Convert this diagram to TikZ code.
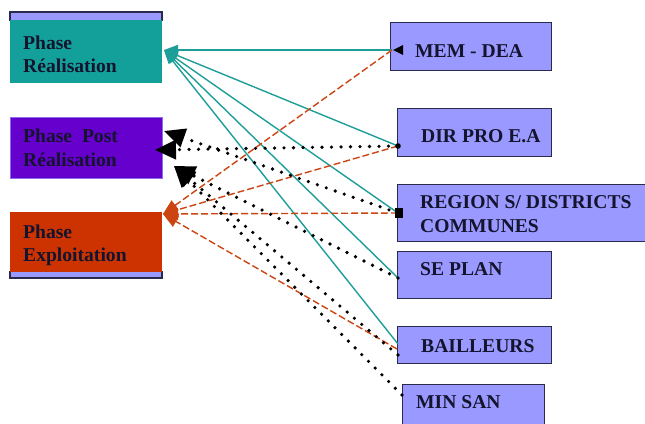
\documentclass[tikz,border=0pt]{standalone}
\usepackage{fontspec}
\setmainfont{Liberation Serif}
\usetikzlibrary{arrows.meta}
\definecolor{lav}{HTML}{9999FF}
\definecolor{frame}{HTML}{2A2A4A}
\definecolor{tealbox}{HTML}{14A09A}
\definecolor{purplebox}{HTML}{6600CC}
\definecolor{orangebox}{HTML}{CC3300}
\definecolor{tealline}{HTML}{1E9E98}
\definecolor{orangeline}{HTML}{CC4411}
\definecolor{txt}{HTML}{14142E}
\begin{document}
\begin{tikzpicture}[x=1pt,y=-1pt,
  rbox/.style={draw=frame,fill=lav,line width=1.3pt,anchor=north west,inner sep=0pt},
  lbox/.style={anchor=north west,inner sep=0pt,minimum width=152pt},
  lab/.style={anchor=base west,inner sep=0pt,font=\fontsize{19.6}{22}\selectfont\bfseries,text=txt},
  tealc/.style={draw=tealline,line width=1.4pt,-{Triangle[length=14pt,width=10pt]}},
  orangec/.style={draw=orangeline,line width=1.4pt,dash pattern=on 7pt off 3pt,-{Triangle[length=15pt,width=12pt]}},
  dotc/.style={draw=black,line width=3.6pt,line cap=round,dash pattern=on 0pt off 9.5pt,
     -{Triangle[length=21pt,width=19pt]}}
]
\useasboundingbox (0,0) rectangle (645,423);
\fill[white] (0,0) rectangle (645,423);

% left frame strips
\filldraw[fill=lav,draw=frame,line width=1.2pt] (10,21) -- (10,12) -- (162,12) -- (162,21);
\filldraw[fill=lav,draw=frame,line width=1.2pt] (10,271) -- (10,278) -- (162,278) -- (162,271);

% left boxes
\node[lbox,fill=tealbox,minimum height=63pt] (real) at (10,20) {};
\node[lbox,fill=purplebox,draw=lav!70!purplebox,line width=0.8pt,minimum height=61pt] (post) at (10,117) {};
\node[lbox,fill=orangebox,minimum height=60pt] (expl) at (10,212) {};

\node[lab] (realA) at (23,49) {Phase};
\node[lab] (realB) at (23,72) {Réalisation};
\node[lab] (postA) at (23,142) {Phase~ Post};
\node[lab] (postB) at (23,166) {Réalisation};
\node[lab] (explA) at (23,238) {Phase};
\node[lab] (explB) at (23,261) {Exploitation};

% right boxes
\node[rbox,minimum width=161pt,minimum height=48pt] (mem) at (390,22) {};
\node[rbox,minimum width=154pt,minimum height=48pt] (dir) at (397,108) {};
\node[rbox,minimum width=250pt,minimum height=57pt] (reg) at (397,184) {};
\node[rbox,minimum width=154pt,minimum height=47pt] (sep) at (397,251) {};
\node[rbox,minimum width=154pt,minimum height=37pt] (bai) at (397,326) {};
\node[rbox,minimum width=142pt,minimum height=45pt] (min) at (402,384) {};

\node[lab] (memT) at (415,57) {MEM - DEA};
\node[lab] (dirT) at (421,142) {DIR PRO E.A};
\node[lab] (regT) at (420,208) {REGION S/ DISTRICTS};
\node[lab] (regU) at (420,232) {COMMUNES};
\node[lab] (sepT) at (420,275) {SE PLAN};
\node[lab] (baiT) at (421,352) {BAILLEURS};
\node[lab] (minT) at (416,408) {MIN SAN};

% connection points
\coordinate (tR) at (164,50);
\coordinate (tE) at (163,214);
\coordinate (tP1) at (155,150);
\coordinate (tP2) at (164,131);
\coordinate (tP3) at (174,166);

\coordinate (memP) at (392,50);
\coordinate (dirP) at (398,146);
\coordinate (regP) at (398,213);
\coordinate (sepP) at (398,278);
\coordinate (baiP) at (398,344);
\coordinate (baiQ) at (397,349);
\coordinate (baiR) at (398,355);
\coordinate (minP) at (402,395);

% teal connectors
\draw[tealc] (memP) -- (tR);
\draw[tealc] (dirP) -- (tR);
\draw[tealc] (regP) -- (tR);
\draw[tealc] (sepP) -- (tR);
\draw[tealc] (baiP) -- (tR);

% orange connectors
\draw[orangec] (memP) -- (tE);
\draw[orangec] (dirP) -- (tE);
\draw[orangec] (regP) -- (tE);
\draw[orangec] (baiQ) -- (tE);

% dotted connectors
\draw[dotc] (dirP) -- (tP1);
\draw[dotc] (regP) -- (tP2);
\draw[dotc] (sepP) -- (tP3);
\draw[dotc] (baiR) -- (tP3);
\draw[dotc] (minP) -- (tP3);

% end marks
\fill[black] (393,50) -- (403,45) -- (403,55) -- cycle;
\fill[black] (dirP) circle (2.8pt);
\fill[black] (395,208) rectangle (403,218);
\end{tikzpicture}
\end{document}
